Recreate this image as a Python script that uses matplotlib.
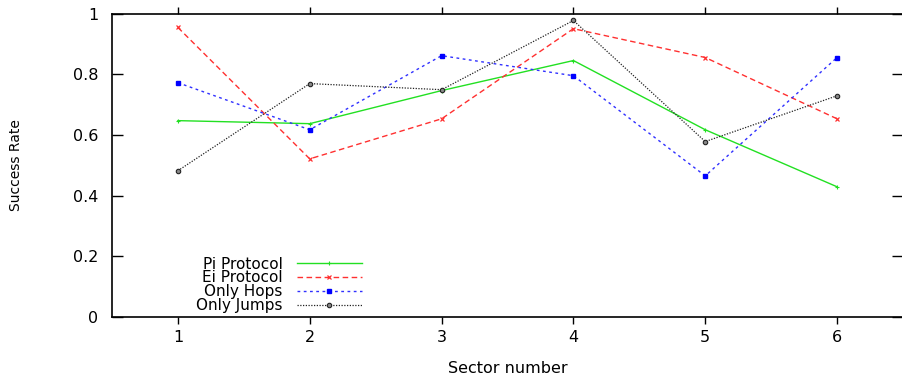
import matplotlib
matplotlib.use('Agg')
import matplotlib.pyplot as plt

plt.rcParams.update({
    'font.family': ['DejaVu Sans'],
    'font.size': 11.5,
    'axes.linewidth': 1.2,
})

# Success rate per sector for each routing strategy
sectors = [1, 2, 3, 4, 5, 6]
pi_protocol = [0.647, 0.637, 0.746, 0.845, 0.617, 0.429]
ei_protocol = [0.954, 0.521, 0.653, 0.950, 0.855, 0.653]
only_hops = [0.772, 0.617, 0.861, 0.795, 0.465, 0.855]
only_jumps = [0.482, 0.769, 0.749, 0.977, 0.578, 0.729]

y_ticks = [0, 0.2, 0.4, 0.6, 0.8, 1]
y_tick_labels = ['0', '0.2', '0.4', '0.6', '0.8', '1']

fig = plt.figure(figsize=(9.02, 3.77), dpi=100)
ax = fig.add_axes([112 / 902, 60 / 377, 791 / 902, 303.5 / 377])

ax.plot(sectors, pi_protocol, color='#22e022', linestyle='-', linewidth=1.0,
        marker='+', markersize=3, markeredgewidth=0.8, label='Pi Protocol')
ax.plot(sectors, ei_protocol, color='#ff3030', linestyle=(0, (4, 2.5)),
        linewidth=1.0, marker='x', markersize=3.5, markeredgewidth=0.9,
        label='Ei Protocol')
ax.plot(sectors, only_hops, color='#3030ff', linestyle=(0, (2, 2.5)),
        linewidth=1.0, marker='s', markersize=3.5, markerfacecolor='#0000ff',
        markeredgecolor='#0000ff', label='Only Hops')
ax.plot(sectors, only_jumps, color='#222222', linestyle=(0, (1, 1.2)),
        linewidth=0.9, marker='o', markersize=3.2, markerfacecolor='#888888',
        markeredgecolor='#222222', markeredgewidth=0.8, label='Only Jumps')

ax.set_xlim(0.5, 6.5)
ax.set_ylim(0, 1)
ax.set_xticks(sectors)
ax.set_yticks(y_ticks)
ax.set_yticklabels(y_tick_labels)

ax.tick_params(axis='x', direction='out', length=5, width=1.0,
               top=True, bottom=True, pad=4)
ax.tick_params(axis='y', direction='in', length=8, width=1.0,
               left=True, right=True, pad=10)

ax.set_xlabel('Sector number', labelpad=12)
ax.set_ylabel('Success Rate', fontsize=10, labelpad=36)

ax.legend(loc='lower right', bbox_to_anchor=(0.316, 0.012),
          markerfirst=False, frameon=False, numpoints=1, fontsize=11,
          handlelength=4.25, handletextpad=0.95, labelspacing=-0.07,
          borderpad=0.0, borderaxespad=0.0)

fig.savefig('out.png', dpi=100)
